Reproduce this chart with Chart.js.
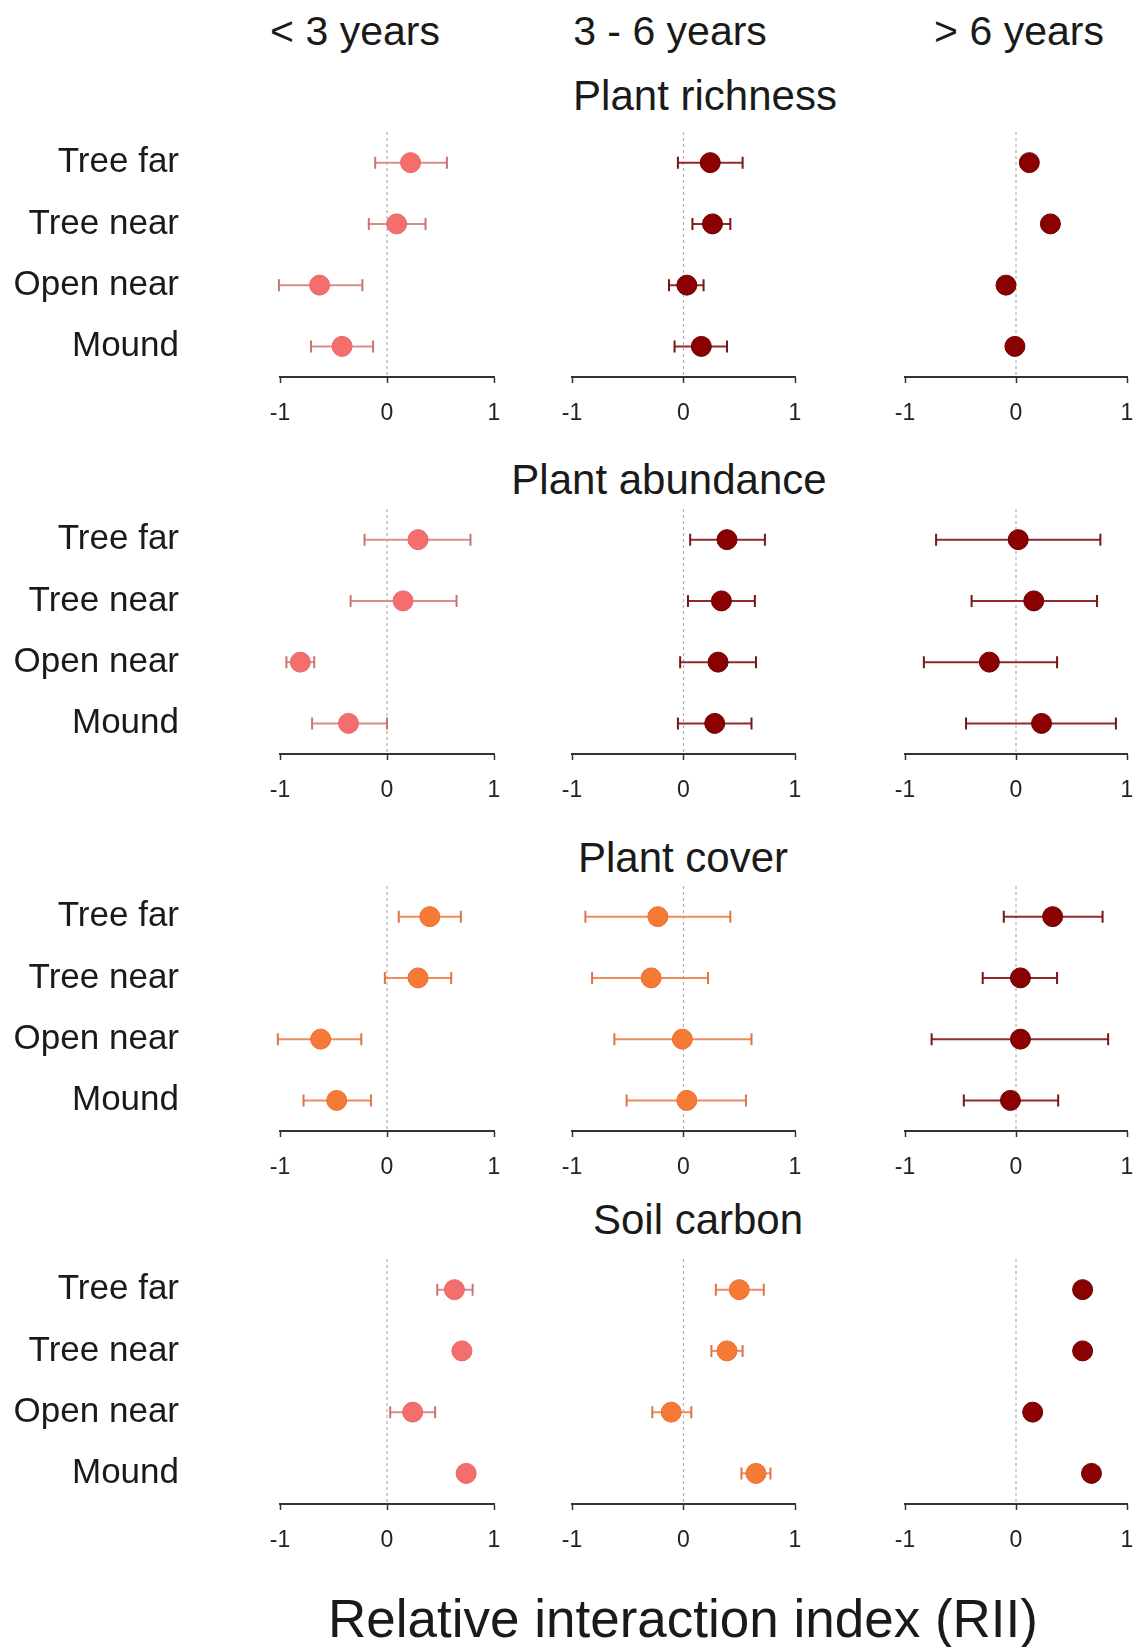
<!DOCTYPE html>
<html>
<head>
<meta charset="utf-8">
<title>Relative interaction index by stand age</title>
<script src="https://cdn.jsdelivr.net/npm/chart.js@4.4.1/dist/chart.umd.min.js"></script>
<style>
  html, body { margin: 0; padding: 0; background: #fff; overflow: hidden; }
  #figure {
    position: relative; width: 1139px; height: 1647px;
    font-family: 'Liberation Sans', Arial, Helvetica, sans-serif; color: #1a1a1a;
  }
  .label { position: absolute; transform: translate(-50%, -50%); white-space: nowrap; line-height: 1; }
  .panel { position: absolute; }
</style>
</head>
<body>
<div id="figure"></div>
<script>
'use strict';

/* ---- Data ---- */
const sites      = ['Tree far', 'Tree near', 'Open near', 'Mound'];
const ageClasses = ['< 3 years', '3 - 6 years', '> 6 years'];
const responses  = ['Plant richness', 'Plant abundance', 'Plant cover', 'Soil carbon'];
const axisTicks  = [-1, 0, 1];
const axisTitle  = 'Relative interaction index (RII)';

// one inner array per age class, values in site order
const richnessRII  = [[0.22, 0.09, -0.63, -0.42], [0.24, 0.26, 0.03, 0.16], [0.12, 0.31, -0.09, -0.01]];
const richnessLow  = [[-0.11, -0.17, -1.01, -0.71], [-0.05, 0.08, -0.13, -0.08], [null, null, null, null]];
const richnessHigh = [[0.56, 0.36, -0.23, -0.13], [0.53, 0.42, 0.18, 0.39], [null, null, null, null]];

const abundanceRII  = [[0.29, 0.15, -0.81, -0.36], [0.39, 0.34, 0.31, 0.28], [0.02, 0.16, -0.24, 0.23]];
const abundanceLow  = [[-0.21, -0.34, -0.94, -0.70], [0.06, 0.04, -0.03, -0.05], [-0.72, -0.40, -0.83, -0.45]];
const abundanceHigh = [[0.78, 0.65, -0.68, 0.00], [0.73, 0.64, 0.65, 0.61], [0.76, 0.73, 0.37, 0.90]];

const coverRII  = [[0.40, 0.29, -0.62, -0.47], [-0.23, -0.29, -0.01, 0.03], [0.33, 0.04, 0.04, -0.05]];
const coverLow  = [[0.11, -0.02, -1.02, -0.78], [-0.88, -0.82, -0.62, -0.51], [-0.11, -0.30, -0.76, -0.47]];
const coverHigh = [[0.69, 0.60, -0.24, -0.15], [0.42, 0.22, 0.61, 0.56], [0.78, 0.37, 0.83, 0.38]];

const carbonRII  = [[0.63, 0.70, 0.24, 0.74], [0.50, 0.39, -0.11, 0.65], [0.60, 0.60, 0.15, 0.68]];
const carbonLow  = [[0.47, null, 0.03, null], [0.29, 0.25, -0.28, 0.52], [null, null, null, null]];
const carbonHigh = [[0.80, null, 0.45, null], [0.72, 0.53, 0.07, 0.78], [null, null, null, null]];

const series = [
  { mean: richnessRII,  low: richnessLow,  high: richnessHigh },
  { mean: abundanceRII, low: abundanceLow, high: abundanceHigh },
  { mean: coverRII,     low: coverLow,     high: coverHigh },
  { mean: carbonRII,    low: carbonLow,    high: carbonHigh }
];

/* ---- Styling ---- */
const FONT = "'Liberation Sans', Arial, Helvetica, sans-serif";

const palette = {
  pink:   { dot: '#f46e6e', edge: '#ea6464', bar: '#db8d8d', cap: '#c97474' },
  orange: { dot: '#f47a36', edge: '#ea6f2c', bar: '#ef8c5e', cap: '#df7444' },
  dark:   { dot: '#8b0000', edge: '#6a0000', bar: '#902b2b', cap: '#761616' }
};
const panelColours = [
  ['pink',   'dark',   'dark'],
  ['pink',   'dark',   'dark'],
  ['orange', 'orange', 'dark'],
  ['pink',   'orange', 'dark']
];

// plot-area edges (x = -1 .. 1) and tops of each row
const colLeft  = [280, 572, 905];
const colRight = [494, 795, 1127];
const rowTop   = [132, 509, 886, 1259];
const PLOT_H = 245, AXIS_H = 50, PAD_T = 6, PAD_L = 20, PAD_R = 12;

/* ---- Error bars + dashed zero line ---- */
const errorBars = {
  id: 'errorBars',
  beforeDatasetsDraw(chart) {
    const { ctx, chartArea: area, scales: { x } } = chart;
    const ds = chart.data.datasets[0];
    const zero = x.getPixelForValue(0);

    ctx.save();
    ctx.strokeStyle = '#b0b0b6';
    ctx.lineWidth = 1.2;
    ctx.setLineDash([3, 3]);
    ctx.beginPath();
    ctx.moveTo(zero, area.top);
    ctx.lineTo(zero, area.bottom);
    ctx.stroke();
    ctx.setLineDash([]);

    chart.getDatasetMeta(0).data.forEach((pt, i) => {
      const p = ds.data[i];
      if (p.lo == null || p.hi == null) return;
      const a = x.getPixelForValue(p.lo);
      const b = x.getPixelForValue(p.hi);
      ctx.strokeStyle = ds.barColor;
      ctx.lineWidth = 2;
      ctx.beginPath();
      ctx.moveTo(a, pt.y);
      ctx.lineTo(b, pt.y);
      ctx.stroke();
      ctx.strokeStyle = ds.capColor;
      ctx.beginPath();
      ctx.moveTo(a, pt.y - 6); ctx.lineTo(a, pt.y + 6);
      ctx.moveTo(b, pt.y - 6); ctx.lineTo(b, pt.y + 6);
      ctx.stroke();
    });
    ctx.restore();
  }
};

/* ---- Build ---- */
const fig = document.getElementById('figure');

function addLabel(text, x, y, size) {
  const el = document.createElement('div');
  el.className = 'label';
  el.textContent = text;
  el.style.left = x + 'px';
  el.style.top = y + 'px';
  el.style.fontSize = size + 'px';
  fig.appendChild(el);
}

function buildPanel(r, c) {
  const left   = c === 0 ? 0 : colLeft[c] - PAD_L;
  const width  = colRight[c] + PAD_R - left;
  const height = PAD_T + PLOT_H + AXIS_H;

  const wrap = document.createElement('div');
  wrap.className = 'panel';
  wrap.style.left = left + 'px';
  wrap.style.top = (rowTop[r] - PAD_T) + 'px';
  wrap.style.width = width + 'px';
  wrap.style.height = height + 'px';
  const canvas = document.createElement('canvas');
  canvas.width = width;
  canvas.height = height;
  wrap.appendChild(canvas);
  fig.appendChild(wrap);

  const s = series[r];
  const col = palette[panelColours[r][c]];
  const showSites = c === 0;

  return new Chart(canvas, {
    type: 'scatter',
    data: {
      labels: sites,
      datasets: [{
        data: sites.map((site, i) => ({ x: s.mean[c][i], y: site, lo: s.low[c][i], hi: s.high[c][i] })),
        pointRadius: 10,
        pointBorderWidth: 1,
        backgroundColor: col.dot,
        borderColor: col.edge,
        barColor: col.bar,
        capColor: col.cap
      }]
    },
    options: {
      responsive: false,
      animation: false,
      events: [],
      layout: {
        autoPadding: false,
        padding: { left: showSites ? 0 : PAD_L, right: PAD_R, top: PAD_T, bottom: 0 }
      },
      plugins: { legend: { display: false }, tooltip: { enabled: false } },
      scales: {
        x: {
          type: 'linear',
          min: -1,
          max: 1,
          afterBuildTicks: sc => { sc.ticks = axisTicks.map(v => ({ value: v })); },
          afterFit: sc => { sc.height = AXIS_H; sc.paddingLeft = 0; sc.paddingRight = 0; },
          grid: { drawOnChartArea: false, drawTicks: true, tickLength: 6, tickColor: '#333', tickWidth: 1.5 },
          border: { display: true, color: '#333', width: 2 },
          ticks: {
            autoSkip: false, maxRotation: 0, padding: 17, color: '#222',
            font: { family: FONT, size: 23 },
            callback: v => String(v)
          }
        },
        y: {
          type: 'category',
          labels: sites,
          offset: true,
          display: showSites,
          afterFit: sc => {
            if (!showSites) return;
            sc.width = colLeft[0];
            sc.paddingTop = 0;
            sc.paddingBottom = 0;
          },
          grid: { display: false, drawTicks: false },
          border: { display: false },
          ticks: { padding: 101, color: '#1a1a1a', font: { family: FONT, size: 35 } }
        }
      }
    },
    plugins: [errorBars]
  });
}

const headerX  = [355, 670, 1019];
const sectionX = [705, 669, 683, 698];
const sectionY = [96, 480, 858, 1220];

ageClasses.forEach((t, c) => addLabel(t, headerX[c], 31, 41));
responses.forEach((t, r) => addLabel(t, sectionX[r], sectionY[r], 42));
addLabel(axisTitle, 683, 1618, 53);

for (let r = 0; r < responses.length; r++) {
  for (let c = 0; c < ageClasses.length; c++) buildPanel(r, c);
}
</script>
</body>
</html>
